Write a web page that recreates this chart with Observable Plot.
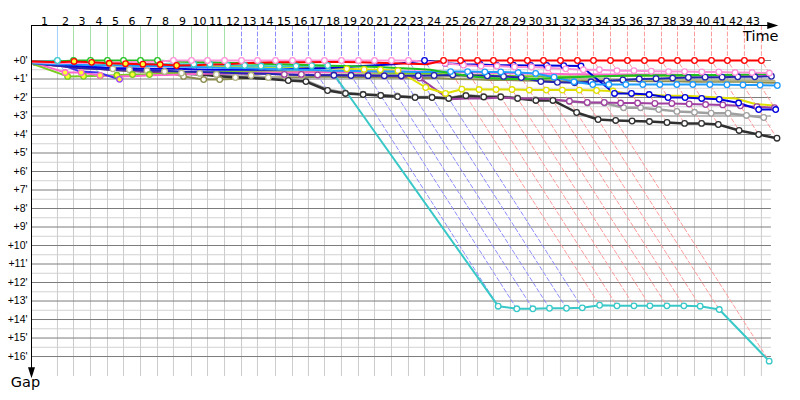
<!DOCTYPE html>
<html><head><meta charset="utf-8">
<script src="https://cdn.jsdelivr.net/npm/d3@7"></script>
<script src="https://cdn.jsdelivr.net/npm/@observablehq/plot@0.6"></script>
<style>body{margin:0;background:#fff}</style>
</head><body><div id="chart"></div>
<script>
// Leader's cumulative time (minutes) at the end of each lap (lap 0 = start)
const lapTimes = [0, 2.20, 3.56, 5.00, 6.44, 7.80, 9.24, 10.68, 12.03, 13.56, 14.92, 16.36, 17.80, 19.15, 20.68, 22.12, 23.47, 24.83, 26.27, 27.71, 29.07, 30.51, 31.95, 33.31, 34.92, 36.36, 37.80, 39.15, 40.59, 42.03, 43.39, 44.83, 46.27, 47.63, 49.07, 50.51, 51.95, 53.39, 54.75, 56.19, 57.63, 58.98, 60.42, 61.86];
const lapLabels = ["1","2","3","4","5","6","7","8","9","10","11","12","13","14","15","16","17","18","19","20","21","22","23","24","25","26","27","28","29","30","31","32","33","34","35","36","37","38","39","40","41","42","43"];
const yTicks = [0,1,2,3,4,5,6,7,8,9,10,11,12,13,14,15,16];
const yHalfTicks = [0.5,1.5,2.5,3.5,4.5,5.5,6.5,7.5,8.5,9.5,10.5,11.5,12.5,13.5,14.5,15.5];

// Gap to leader (minutes) per completed lap, lap 0..N
const red = [0.05,0.1,0.05,0.1,0.15,0.17,0.2,0.22,0.27,0.25,0.22,0.2,0.15,0.12,0.1,0.1,0.1,0.08,0.08,0.1,0.12,0.15,0.18,0.2, 0,0,0,0,0,0,0,0,0,0,0,0,0,0,0,0,0,0,0,0];
const turquoise = [0.08,0,0.1,0.12,0.15,0.15,0.18,0.2,0.2,0.2,0.2,0.27,0.27,0.3,0.32,0.3,0.28,0.27, 13.28,13.42,13.42,13.39,13.39,13.37,13.23,13.26,13.26,13.26,13.26,13.26,13.28,13.46,16.25];
const green = [0.1,0.05,0,0,0,0,0,0, 0.05,0.08,0.1,0.12,0.15,0.18,0.2,0.22,0.25,0.28,0.3,0.32,0.35,0.4,0.45,0.5, 0.7,0.85,0.95,1.0,1.0,0.98,0.95,0.9,0.88,0.85,0.82,0.8,0.8,0.8,0.78,0.78,0.78,0.77,0.76,0.72];
const pink = [0.1,0.15,0.12,0.15,0.12,0.1,0.08,0.05, 0,0,0,0,0,0,0,0,0,0,0,0,0,0,0, 0.05,0.15,0.25,0.3,0.3,0.35,0.35,0.4,0.45,0.5,0.5,0.55,0.55,0.58,0.6,0.6,0.62,0.62,0.65,0.65,0.68];
const blue = [0.1,0.2,0.3,0.35,0.4,0.42,0.45,0.45,0.45,0.48,0.5,0.5,0.5,0.5,0.48,0.45,0.42,0.4,0.35,0.3,0.25,0.2,0.1, 0, 0.15,0.2,0.22,0.25,0.25,0.27,0.27,0.28,0.3, 1.78,1.78,1.84,2.0,2.0,2.05,2.1,2.3,2.65,2.65];
const navy = [0.15,0.3,0.4,0.45,0.5,0.5,0.55,0.55,0.6,0.62,0.65,0.68,0.7,0.72,0.75,0.78,0.8, 0.8,0.81,0.82,0.83,0.83,0.82,0.81,0.78,0.81,0.83,0.86,0.92,1.14,1.18,1.2, 1.15,1.1,1.05,1.0,0.98,0.95,0.92,0.9,0.9,0.88,0.88,0.85];
const skyblue = [0.15,0.2,0.22,0.25,0.25,0.28,0.3,0.3,0.32,0.35,0.38,0.4,0.42,0.45,0.48,0.5,0.52,0.55,0.55,0.58,0.6,0.6,0.62,0.62, 0.6,0.6,0.62,0.62,0.65,0.7,0.9,1.15,1.3,1.3,1.3,1.3,1.3,1.3,1.3,1.3,1.31,1.32,1.33,1.35];
const yellow = [0.1,0.15,0.2,0.22,0.25,0.25,0.28,0.3,0.3,0.3,0.32,0.32,0.33,0.35,0.35,0.38,0.4,0.42,0.45,0.48,0.5,0.55, 1.46,1.78,1.55,1.57,1.57,1.57,1.6,1.6,1.6,1.6,1.62,1.65,1.85,1.85,1.9,1.9,1.95,2.0,2.05,2.35,2.43];
const purple = [0.15,0.3,0.4,0.45,0.5,0.55,0.6,0.62,0.65,0.68,0.7,0.7,0.72,0.72,0.75,0.75,0.78,0.78,0.8,0.8,0.82,0.85,0.95, 2.1,2.05,2.05,2.0,2.05,2.05,2.1,2.2,2.27,2.27,2.3,2.3,2.32,2.32,2.35,2.38,2.4,2.45,2.5,2.55];
const gray = [0.18,0.25,0.32,0.38,0.45,0.5,0.55,0.6,0.65,0.7,0.78,0.85,0.9,0.95,1.02,1.08,1.55, 1.75,1.82,1.87,1.92,1.97,1.97,2.02,1.88,1.94,1.94,2.02,2.12,2.14, 2.2,2.3,2.3,2.55,2.55,2.65,2.75,2.8,2.85,2.85,2.97,3.08];
const black = [0.2,0.25,0.35,0.4,0.5,0.55,0.6,0.65,0.7,0.75,0.85,0.9,0.95,1.0,1.08,1.14,1.62,1.78,1.84,1.89,1.95,2.0,2.0,2.05,1.9,1.97,1.97,2.05,2.16,2.16,2.81,3.19,3.24,3.27,3.3,3.35,3.4,3.4,3.46,3.78,4.0,4.2];
const olive = [0.15,0.3,0.4,0.45,0.5,0.52,0.55,0.6,0.86,1.03,1.03, 0.98,0.95,0.92,0.9,0.9,0.88,0.88,0.9,0.9,0.92,0.92,0.95,0.95,1.0,1.02,1.05,1.05,1.08,1.1,1.12,1.12,1.1,1.1,1.1,1.12,1.12,1.12,1.15,1.15,1.15,1.15,1.18,1.2];
const khaki = [0.12,0.2,0.3,0.4,0.45,0.5,0.55,0.6,0.68,0.7,0.75,0.92,0.81,0.92,0.86,0.8, 0.78,0.76,0.75,0.75,0.76,0.78,0.8,0.82,0.85,0.88,0.9,0.92,0.95,0.98,1.0,1.0,1.02,1.02,1.05,1.05,1.05,1.06,1.06,1.08,1.08,1.08,1.1,1.1];
const lime = [0.2,0.86,0.85,0.83,0.8,0.76,0.76, 0.7,0.66,0.64,0.62,0.6,0.58,0.58,0.6,0.6,0.62,0.62,0.64,0.65,0.66,0.68,0.7,0.72,0.75,0.78,0.8,0.82,0.85,0.85,0.86,0.86,0.85,0.85,0.84,0.84,0.83,0.82,0.82,0.8,0.8,0.8,0.8,0.78];
const hotpink = [0.1,0.65,0.65,0.81,0.85, 0.85,0.8,0.78,0.75,0.72,0.7,0.68,0.66,0.65,0.65,0.64,0.64,0.63,0.62,0.62,0.6,0.6,0.6,0.6,0.62,0.64,0.66,0.68,0.7,0.72,0.72,0.74,0.74,0.75,0.75,0.76,0.76,0.76,0.78,0.78,0.78,0.78,0.8,0.8];
const violet = [0.1,0.2,0.6,0.65,1.02];

// Styles (drawing order: back to front)
const series = [
  {gaps: olive,     color: "#8c8c50", w: 2,   marks: [[7,10,"#fff"]]},
  {gaps: khaki,     color: "#b4b488", w: 2,   marks: [[4,15,"#fff"]]},
  {gaps: gray,      color: "#a0a0a0", w: 2.5, marks: [[17,41,"#fff"]]},
  {gaps: black,     color: "#303030", w: 2.5, marks: [[14,41,"#fff"]]},
  {gaps: purple,    color: "#a040a0", w: 2,   marks: [[14,22,"#fff"],[30,42,"#fff"]]},
  {gaps: yellow,    color: "#e0e000", w: 2,   marks: [[18,33,"#fff"]]},
  {gaps: lime,      color: "#7acc22", w: 2,   marks: [[1,6,"#ffff33"]]},
  {gaps: hotpink,   color: "#ff66cc", w: 2,   marks: [[1,3,"#ffff33"]]},
  {gaps: violet,    color: "#4030f0", w: 2,   marks: [[4,4,"#ffff33"]], mstroke: "#a040ff"},
  {gaps: navy,      color: "#2424b0", w: 2,   marks: [[17,43,"#fff"]]},
  {gaps: blue,      color: "#0000dd", w: 2,   marks: [[23,42,"#fff"]]},
  {gaps: skyblue,   color: "#1e9bff", w: 2,   marks: [[24,43,"#fff"]]},
  {gaps: turquoise, color: "#38c8c8", w: 2,   marks: [[1,1,"#fff"],[9,32,"#fff"]]},
  {gaps: green,     color: "#20c020", w: 2,   marks: [[2,7,"#fff"]]},
  {gaps: pink,      color: "#ff90d8", w: 2,   marks: [[8,22,"#fff"],[24,43,"#fff"]]},
  {gaps: red,       color: "#ff0000", w: 2,   marks: [[2,8,"#ffff33"],[24,43,"#fff"]]}
];

const yTop = -1.892, yBottom = 17.08, xEnd = 63.14, xGridEnd = 62.71;

const pointsOf = s => s.gaps.map((g, k) => ({lap: k, x: lapTimes[k] + g, y: g}));

// lap lines: vertical above the zero line, then diagonal down to the last car on that lap
const lapLines = [];
for (let k = 1; k < lapTimes.length; ++k) {
  const gEnd = d3.max(series, s => s.gaps.length > k ? s.gaps[k] : undefined);
  const grp = k === 1 ? "a" : k <= 11 ? "b" : k <= 23 ? "c" : "d";
  lapLines.push({lap: k, grp, x: lapTimes[k], y: yTop});
  lapLines.push({lap: k, grp, x: lapTimes[k], y: 0});
  lapLines.push({lap: k, grp, x: lapTimes[k] + gEnd, y: gEnd});
}
const lapStyle = {a: ["#9fd0ff", null], b: ["#a6e0a6", null], c: ["#8c8cff", "4,2.5"], d: ["#ff9a9a", "4,2.5"]};

const arrowRight = {draw(ctx){ ctx.moveTo(0,0); ctx.lineTo(-11,-3.5); ctx.lineTo(-11,3.5); ctx.closePath(); }};
const arrowDown = {draw(ctx){ ctx.moveTo(0,0); ctx.lineTo(-3.5,-11); ctx.lineTo(3.5,-11); ctx.closePath(); }};

const marks = [
  Plot.ruleY(yHalfTicks, {x1: 0, x2: xGridEnd, stroke: "#d2d2d2"}),
  Plot.ruleX(lapTimes.slice(1), {y1: 0, y2: yBottom, stroke: "#cccccc"}),
  Plot.ruleY(yTicks, {x1: 0, x2: xGridEnd, stroke: "#7c7c7c"})
];
for (const g of ["a","b","c","d"]) {
  marks.push(Plot.line(lapLines.filter(d => d.grp === g), {x: "x", y: "y", z: "lap", stroke: lapStyle[g][0], strokeWidth: 1, strokeDasharray: lapStyle[g][1], strokeLinejoin: "miter"}));
}
for (const s of series) {
  marks.push(Plot.line(pointsOf(s), {x: "x", y: "y", stroke: s.color, strokeWidth: s.w}));
}
for (const s of series) {
  const pts = pointsOf(s);
  for (const [a, b, fill] of s.marks) {
    marks.push(Plot.dot(pts.filter(d => d.lap >= a && d.lap <= b), {x: "x", y: "y", r: 2.8, fill, stroke: s.mstroke || s.color, strokeWidth: 1.3}));
  }
}
marks.push(
  Plot.ruleY([yTop], {x1: 0, x2: xEnd - 0.3, stroke: "black"}),
  Plot.ruleX([0], {y1: yTop, y2: yBottom + 0.05, stroke: "black"}),
  Plot.dot([{x: xEnd + 0.15, y: yTop}], {x: "x", y: "y", symbol: arrowRight, fill: "black", stroke: null}),
  Plot.dot([{x: 0, y: yBottom + 0.1}], {x: "x", y: "y", symbol: arrowDown, fill: "black", stroke: null}),
  Plot.text(lapLabels, {x: (d, i) => (lapTimes[i] + lapTimes[i + 1]) / 2, frameAnchor: "top", dy: -8, text: d => d, fontSize: 11, fill: "black"}),
  Plot.text(yTicks, {x: 0, y: d => d, text: d => `+${d}'`, textAnchor: "end", dx: -4, fontSize: 10.5, fontFamily: "Liberation Sans", fill: "black"}),
  Plot.text(["Time"], {frameAnchor: "top-right", textAnchor: "end", lineAnchor: "top", dx: 2, dy: 5, fontSize: 14.5, fill: "black"}),
  Plot.text(["Gap"], {frameAnchor: "bottom-left", textAnchor: "middle", lineAnchor: "top", dx: -6, dy: 0, fontSize: 14.5, fill: "black"})
);

const chart = Plot.plot({
  width: 800, height: 400,
  marginLeft: 31, marginRight: 24, marginTop: 25, marginBottom: 24,
  x: {domain: [0, xEnd], axis: null},
  y: {domain: [yTop, yBottom], reverse: true, axis: null},
  style: {background: "#fff", fontFamily: "DejaVu Sans", overflow: "visible"},
  marks
});
document.getElementById("chart").appendChild(chart);
</script>
</body></html>
